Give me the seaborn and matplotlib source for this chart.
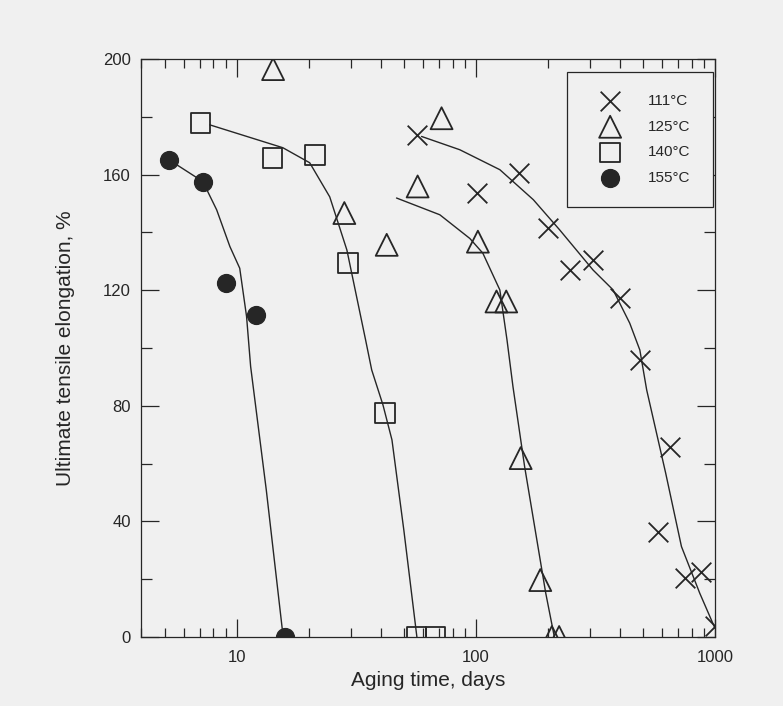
import matplotlib
matplotlib.use("Agg")
import matplotlib.pyplot as plt
import matplotlib.ticker as mticker
import numpy as np
import seaborn as sns

# measured points (aging time in days, elongation in %)
t111 = [56.5, 101, 152, 200, 247, 309, 400, 485, 648, 580, 751, 871, 1000]
e111 = [173.8, 153.6, 160.5, 141.5, 127, 130.5, 117.2, 95.9, 65.9, 36.4, 20.3, 22.6, 3.8]

t125 = [14.2, 28.2, 42.4, 57.1, 71.9, 102, 122, 134, 154, 186, 208, 223]
e125 = [196.5, 146.7, 135.7, 155.9, 179.5, 136.8, 116.1, 116.1, 61.9, 19.7, 0, 0]

t140 = [7.07, 14.1, 21.2, 29.3, 41.7, 56.5, 67.9]
e140 = [177.8, 165.7, 166.8, 129.4, 77.5, 0, 0]

t155 = [5.23, 7.21, 9.02, 12.0, 15.9]
e155 = [165.1, 157.6, 122.4, 111.5, 0]

# fitted curves
c111_t = [59.3, 85.7, 126, 174, 224, 309, 375, 440, 485, 518, 622, 724, 863, 1000]
c111_e = [173.2, 168.6, 161.7, 151.3, 140.9, 127, 120.1, 108.6, 99.3, 85.5, 56.7, 31.3, 15.2, 3]

c125_t = [46.6, 70.7, 94.4, 107, 126, 135, 143, 160, 196, 213]
c125_e = [151.9, 146.1, 137.9, 132.8, 120.1, 102.8, 86.6, 58.9, 15.2, 0]

c140_t = [7.73, 15.6, 20.2, 24.5, 28.9, 34.6, 36.7, 40.9, 44.6, 50.0, 56.7]
c140_e = [177.2, 169.3, 164.1, 152.3, 133.9, 102.8, 92.4, 80.3, 68.2, 37.0, 0]

c155_t = [5.22, 7.22, 8.25, 9.37, 10.3, 11.0, 11.44, 13.3, 15.65]
c155_e = [165.1, 157.6, 147.8, 135.1, 127.6, 110.9, 93.6, 50.9, 0]

labels = ["111°C", "125°C", "140°C", "155°C"]
xtick_vals = [10, 100, 1000]
ytick_vals = [0, 40, 80, 120, 160, 200]

ink = "#262626"
paper = "#f0f0f0"

sns.set_theme(style="ticks")
plt.rcParams["font.family"] = ["Liberation Sans", "DejaVu Sans"]

fig = plt.figure(figsize=(7.83, 7.06), dpi=100, facecolor=paper)
ax = fig.add_axes([140.7 / 783, 1 - 637 / 706, (715 - 140.7) / 783, (637 - 59) / 706])
ax.set_facecolor(paper)
ax.set_xscale("log")

for ct, ce in [(c111_t, c111_e), (c125_t, c125_e), (c140_t, c140_e), (c155_t, c155_e)]:
    sns.lineplot(x=ct, y=ce, ax=ax, color=ink, linewidth=1.0, sort=False,
                 estimator=None, zorder=2)

sns.scatterplot(x=t111, y=e111, ax=ax, marker="x", s=200, color=ink,
                linewidth=1.3, label=labels[0], zorder=3)
sns.scatterplot(x=t125, y=e125, ax=ax, marker="^", s=250, color=ink,
                facecolor="none", edgecolor=ink, linewidth=1.3,
                label=labels[1], zorder=3)
sns.scatterplot(x=t140, y=e140, ax=ax, marker="s", s=200, color=ink,
                facecolor="none", edgecolor=ink, linewidth=1.3,
                label=labels[2], zorder=3)
sns.scatterplot(x=t155, y=e155, ax=ax, marker="o", s=165, color=ink,
                edgecolor=ink, linewidth=1.0, label=labels[3], zorder=3)

ax.set_xlim(3.97, 1000)
ax.set_ylim(0, 200)
ax.set_xticks(xtick_vals, labels=[str(v) for v in xtick_vals])
ax.xaxis.set_minor_locator(mticker.LogLocator(base=10, subs=np.arange(2, 10)))
ax.xaxis.set_minor_formatter(mticker.NullFormatter())
ax.set_yticks(ytick_vals)
ax.yaxis.set_minor_locator(mticker.MultipleLocator(20))

for sp in ax.spines.values():
    sp.set_color(ink)
    sp.set_linewidth(0.9)
    sp.set_visible(True)

ax.tick_params(which="both", direction="in", top=True, right=True,
               color=ink, width=0.9, labelcolor=ink, labelsize=12)
ax.tick_params(axis="x", which="major", length=13, pad=9)
ax.tick_params(axis="x", which="minor", length=6.5)
ax.tick_params(axis="y", which="major", length=13, pad=7)
ax.tick_params(axis="y", which="minor", length=8)

ax.set_xlabel("Aging time, days", fontsize=15, color=ink, labelpad=5)
ax.set_ylabel("Ultimate tensile elongation, %", fontsize=15, color=ink, labelpad=20)

leg = ax.legend(loc="upper right", bbox_to_anchor=(0.9965, 0.9775),
                borderaxespad=0, frameon=True, fancybox=False, framealpha=1,
                facecolor=paper, edgecolor=ink, borderpad=1.45,
                labelspacing=0.76, handlelength=2.8, handletextpad=1.1,
                prop={"size": 11})
leg.get_frame().set_linewidth(0.9)
for txt in leg.get_texts():
    txt.set_color(ink)

fig.savefig("out.png", dpi=100, facecolor=paper)
